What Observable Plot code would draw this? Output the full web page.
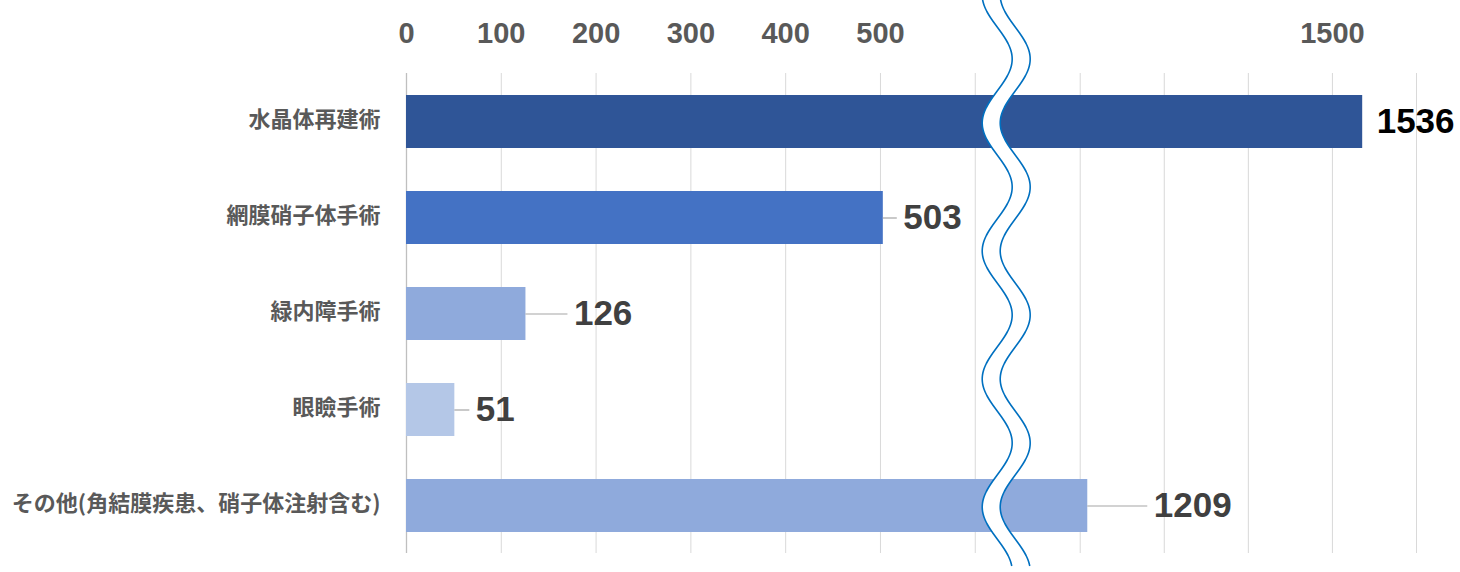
<!DOCTYPE html>
<html>
<head>
<meta charset="utf-8">
<script src="https://cdn.jsdelivr.net/npm/d3@7"></script>
<script src="https://cdn.jsdelivr.net/npm/@observablehq/plot@0.6"></script>
<style>
  html, body { margin: 0; padding: 0; background: #ffffff; }
  #chart svg { display: block; overflow: visible; }
</style>
</head>
<body>
<div id="chart"></div>
<script>
// ---- data ----
const categories = [
  "水晶体再建術",
  "網膜硝子体手術",
  "緑内障手術",
  "眼瞼手術",
  "その他(角結膜疾患、硝子体注射含む)"
];
const counts = [1536, 503, 126, 51, 1209];
const tickLabels = [0, 100, 200, 300, 400, 500, 1500];
const gridValues = [0, 100, 200, 300, 400, 500, 600, 1200, 1300, 1400, 1500, 1600];
const axisBreak = [630, 1109];   // values hidden by the wavy break

// ---- styles / layout ----
const barColors = ["#2F5597", "#4472C4", "#8FAADC", "#B4C7E7", "#8FAADC"];
const valueLabelColors = ["#000000", "#404040", "#404040", "#404040", "#404040"];
const labelGapPx = [14, 20, 48, 21, 66];     // manual label placement, as in the reference
const W = 1460, H = 572;
const xDomain = [0, axisBreak[0], axisBreak[1], 1600];
const xRange = [406, 1003.2, 1003.2, 1416];

const xs = Plot.scale({x: {type: "linear", domain: xDomain, range: xRange}});

const rows = categories.map((c, i) => {
  const px = xs.apply(counts[i]);
  return {
    category: c,
    value: counts[i],
    color: barColors[i],
    labelColor: valueLabelColors[i],
    labelX: xs.invert(px + labelGapPx[i]),
    leaderEnd: xs.invert(px + labelGapPx[i] - 6),
    hasLeader: labelGapPx[i] > 16
  };
});

const jp = "'Noto Sans CJK JP', 'Noto Sans', sans-serif";
const num = "'Liberation Sans', Arial, sans-serif";

const chart = Plot.plot({
  width: W,
  height: H,
  marginLeft: 406,
  marginRight: 44,
  marginTop: 73,
  marginBottom: 19,
  x: {type: "linear", domain: xDomain, range: xRange, axis: null},
  y: {domain: categories, paddingInner: 0.45, paddingOuter: 0.22, axis: null},
  color: {type: "identity"},
  style: {background: "#ffffff"},
  marks: [
    Plot.ruleX(gridValues.filter(v => v !== 0), {x: d => d, stroke: "#d9d9d9", strokeWidth: 1}),
    Plot.ruleX([0], {x: d => d, stroke: "#bfbfbf", strokeWidth: 1.3}),
    Plot.barX(rows, {y: "category", x1: 0, x2: "value", fill: "color"}),
    Plot.ruleY(rows.filter(d => d.hasLeader), {
      y: "category", x1: "value", x2: "leaderEnd", stroke: "#a6a6a6", strokeWidth: 1.2
    }),
    Plot.text(rows, {
      y: "category", x: "labelX", text: d => String(d.value), fill: "labelColor",
      textAnchor: "start", lineAnchor: "middle",
      fontFamily: num, fontWeight: "bold", fontSize: 35
    }),
    // category labels (left)
    Plot.text(categories, {
      y: d => d, text: d => d, frameAnchor: "left", dx: -26, dy: -2,
      textAnchor: "end", lineAnchor: "middle",
      fill: "#595959", fontFamily: jp, fontWeight: "bold", fontSize: 22
    }),
    // top tick labels
    Plot.text(tickLabels, {
      x: d => d, text: d => String(d), frameAnchor: "top", dy: -40,
      textAnchor: "middle", lineAnchor: "middle",
      fill: "#595959", fontFamily: num, fontWeight: "bold", fontSize: 29
    })
  ]
});

// ---- wavy axis-break decoration, placed with the x scale ----
const svg = d3.select(chart);
const P = chart.scale("x").apply(axisBreak[0]);
const amp = 15, period = 128, band = 18;
const ys = d3.range(-12, 568, 2);
const leftX = y => P - 6 - amp * Math.cos(2 * Math.PI * (y + 5) / period);
const leftPts = ys.map(y => [leftX(y), y]);
const rightPts = ys.map(y => [leftX(y) + band, y]);
const line = d3.line().curve(d3.curveBasis);
const g = svg.append("g").attr("class", "axis-break");
g.append("path")
  .attr("d", line(leftPts) + "L" + rightPts.slice().reverse().map(p => p.join(",")).join("L") + "Z")
  .attr("fill", "#ffffff").attr("stroke", "none");
g.append("path").attr("d", line(leftPts)).attr("fill", "none").attr("stroke", "#0070C0").attr("stroke-width", 1.6);
g.append("path").attr("d", line(rightPts)).attr("fill", "none").attr("stroke", "#0070C0").attr("stroke-width", 1.6);

document.getElementById("chart").appendChild(chart);
</script>
</body>
</html>
